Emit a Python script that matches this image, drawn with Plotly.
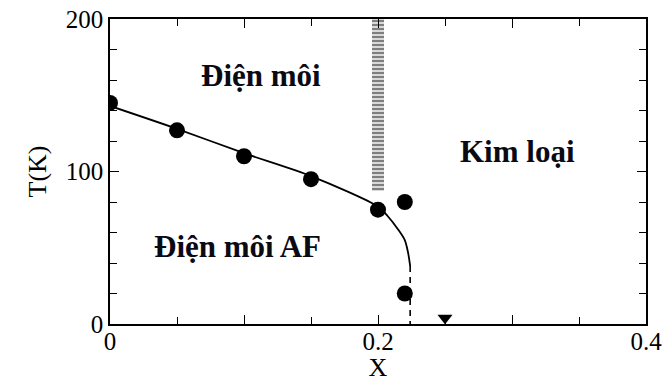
import plotly.graph_objects as go

# Measured phase points: doping x vs transition temperature T (K)
x_pts = [0.0, 0.05, 0.10, 0.15, 0.20, 0.22, 0.22]
t_pts = [145, 127, 110, 95, 75, 80, 20]

# Phase boundary (solid part) traced through the data
x_curve = [0.0, 0.05, 0.10, 0.15, 0.20, 0.207, 0.215, 0.220, 0.2224, 0.224]
t_curve = [143, 128, 112, 97, 77, 71, 62, 55, 47, 38]

# Dashed continuation of the boundary down to T = 0
x_dash = [0.224, 0.224]
t_dash = [38, 0]

# Hatched band: crossover region at x = 0.2
band_x = [0.2]
band_low = [87]
band_high = [200]

# Triangle marker on the axis
x_tri = [0.25]
t_tri = [4]

serif = "Liberation Serif"

fig = go.Figure()

fig.add_trace(go.Bar(
    x=band_x, base=band_low, y=[h - l for h, l in zip(band_high, band_low)],
    width=0.0095,
    marker=dict(color="white", line=dict(width=0),
                pattern=dict(shape="-", size=4, solidity=0.65,
                             fgcolor="black", bgcolor="white")),
    showlegend=False, hoverinfo="skip",
))

fig.add_trace(go.Scatter(
    x=x_curve, y=t_curve, mode="lines",
    line=dict(color="black", width=1.8, shape="spline", smoothing=0.8),
    showlegend=False,
))

fig.add_trace(go.Scatter(
    x=x_dash, y=t_dash, mode="lines",
    line=dict(color="black", width=1.6, dash="6px,5px"),
    showlegend=False,
))

fig.add_trace(go.Scatter(
    x=x_pts, y=t_pts, mode="markers",
    marker=dict(color="black", size=16, symbol="circle"),
    showlegend=False,
))

fig.add_trace(go.Scatter(
    x=x_tri, y=t_tri, mode="markers",
    marker=dict(color="black", size=13, symbol="triangle-down"),
    showlegend=False,
))

labels = [
    ("Điện môi", 0.113, 163),
    ("Kim loại", 0.304, 113),
    ("Điện môi AF", 0.095, 51),
]
for text, lx, ly in labels:
    fig.add_annotation(x=lx, y=ly, text=f"<b>{text}</b>", showarrow=False,
                       font=dict(family=serif, size=31, color="#0a0a14"))

axis_common = dict(
    showgrid=False, zeroline=False, showline=True, linecolor="black",
    linewidth=1.5, mirror="ticks", ticks="inside", tickcolor="black",
    tickwidth=1.3, ticklen=9, automargin=False,
    tickfont=dict(family=serif, size=25, color="black"),
)

fig.update_xaxes(
    range=[0, 0.4], tickvals=[0, 0.1, 0.2, 0.3, 0.4],
    ticktext=["0", "", "0.2", "", "0.4"],
    ticklabelstandoff=-6,
    minor=dict(dtick=0.05, ticks="inside", ticklen=7, tickcolor="black",
               tickwidth=1.3),
    title=dict(text="X", font=dict(family=serif, size=26, color="black"),
               standoff=0),
    **axis_common,
)
fig.update_yaxes(
    range=[0, 200], tickvals=[0, 100, 200],
    minor=dict(dtick=20, ticks="inside", ticklen=7, tickcolor="black",
               tickwidth=1.3),
    title=dict(text="T(K)", font=dict(family=serif, size=26, color="black"),
               standoff=12),
    **axis_common,
)

fig.update_layout(
    width=665, height=382,
    margin=dict(l=110, r=19, t=19, b=58),
    plot_bgcolor="white", paper_bgcolor="white",
    bargap=0,
)

fig.write_html("out.html")
